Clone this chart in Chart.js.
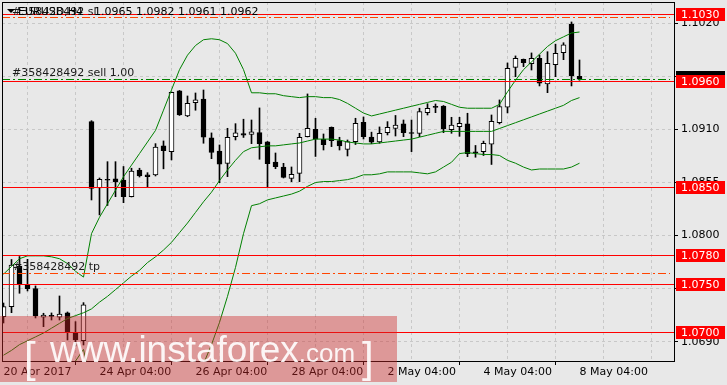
<!DOCTYPE html>
<html>
<head>
<meta charset="utf-8">
<script src="https://cdn.jsdelivr.net/npm/chart.js@4.4.0/dist/chart.umd.min.js"></script>
<style>
  html, body { margin: 0; padding: 0; background: #e8e8e8; }
  #wrap { width: 727px; height: 385px; }
</style>
</head>
<body>
<div id="wrap"><canvas id="chart" width="727" height="385"></canvas></div>
<script>
// EURUSD H4 candles, 20 Apr - 8 May 2017
const opens = [1.07159,1.07263,1.07685,1.07495,1.07450,1.07153,1.07164,1.07153,1.07198,1.06994,1.06911,
  1.09181,1.08493,1.08576,1.08587,1.08576,1.08403,1.08680,1.08630,1.08628,1.08929,1.08870,1.09499,1.09240,1.09378,
  1.09416,1.09012,1.08877,1.08749,1.09025,1.09058,1.09048,1.09067,1.08972,1.08763,1.08711,1.08592,1.08644,1.09025,
  1.09102,1.08998,1.09123,1.08984,1.08894,1.08973,1.09174,1.09020,1.08972,1.09067,1.09110,1.09157,1.09062,1.09060,
  1.09274,1.09332,1.09343,1.09098,1.09129,1.09157,1.08861,1.08870,1.08947,1.09170,1.09330,1.09744,1.09827,1.09782,
  1.09838,1.09571,1.09771,1.09896,1.10193,1.0965];
const highs = [1.07301,1.07752,1.07783,1.07754,1.07478,1.07195,1.07198,1.07374,1.07208,1.07108,1.07305,
  1.09191,1.08597,1.08766,1.08766,1.08716,1.08698,1.08698,1.08652,1.08953,1.08981,1.09488,1.09504,1.09447,1.09478,
  1.09509,1.09064,1.08939,1.09112,1.09160,1.09206,1.09198,1.09323,1.08975,1.08856,1.08749,1.08711,1.09060,1.09468,
  1.09216,1.09053,1.09126,1.09019,1.08991,1.09216,1.09229,1.09072,1.09126,1.09181,1.09245,1.09198,1.09198,1.09320,
  1.09367,1.09364,1.09348,1.09226,1.09226,1.09268,1.08934,1.08979,1.09250,1.09406,1.09789,1.09862,1.09830,1.09893,
  1.09872,1.09906,1.09984,1.09999,1.10214,1.0982];
const lows = [1.07094,1.07201,1.07402,1.07426,1.07146,1.07056,1.07125,1.07125,1.06918,1.06856,1.06866,
  1.08369,1.08214,1.08312,1.08403,1.08341,1.08400,1.08607,1.08504,1.08618,1.08692,1.08784,1.09245,1.09232,1.09299,
  1.08957,1.08797,1.08548,1.08611,1.08991,1.09017,1.08953,1.08791,1.08504,1.08693,1.08597,1.08559,1.08559,1.09022,
  1.08820,1.08887,1.08922,1.08887,1.08825,1.08944,1.09001,1.08953,1.08957,1.09043,1.09032,1.09025,1.08870,1.09025,
  1.09250,1.09274,1.09067,1.09060,1.09029,1.08818,1.08812,1.08830,1.08737,1.09157,1.09271,1.09647,1.09751,1.09716,
  1.09551,1.09481,1.09647,1.09823,1.09551,1.0961];
const closes = [1.07263,1.07695,1.07498,1.07450,1.07167,1.07177,1.07162,1.07187,1.07001,1.06918,1.07281,
  1.08490,1.08584,1.08573,1.08556,1.08403,1.08668,1.08618,1.08611,1.08918,1.08880,1.09485,1.09250,1.09371,1.09406,
  1.09019,1.08861,1.08739,1.09019,1.09064,1.09040,1.09076,1.08953,1.08745,1.08714,1.08604,1.08635,1.09019,1.09112,
  1.08998,1.08942,1.08984,1.08929,1.08973,1.09164,1.09025,1.08968,1.09060,1.09123,1.09146,1.09067,1.09058,1.09284,
  1.09320,1.09328,1.09105,1.09144,1.09164,1.08849,1.08857,1.08957,1.09183,1.09336,1.09734,1.09838,1.09792,1.09838,
  1.09579,1.09786,1.09890,1.09976,1.09654,1.0962];

// Bollinger bands
const bbUpper = [1.0760,1.0768,1.0776,1.0779,1.0779,1.0779,1.0778,1.0776,1.0771,1.0763,1.0757,
  1.0802,1.0819,1.0833,1.0847,1.0861,1.0873,1.0885,1.0897,1.0909,1.0930,1.0951,1.0972,1.0987,1.0997,
  1.1003,1.1004,1.1003,1.0999,1.0989,1.0972,1.0948,1.0948,1.0947,1.0947,1.0945,1.0944,1.0943,1.0944,
  1.0944,1.0943,1.0943,1.0941,1.0937,1.0932,1.0927,1.0924,1.0926,1.0928,1.0930,1.0932,1.0934,1.0936,
  1.0938,1.0940,1.0939,1.0936,1.0933,1.0932,1.0932,1.0932,1.0932,1.0936,1.0949,1.0961,1.0972,1.0980,
  1.0988,1.0996,1.1002,1.1006,1.1010,1.1011];
const bbMiddle = [1.0676,1.0681,1.0687,1.0691,1.0695,1.0699,1.0704,1.0709,1.0714,1.0717,1.0720,
  1.0724,1.0731,1.0737,1.0744,1.0751,1.0758,1.0764,1.0772,1.0778,1.0785,1.0793,1.0803,1.0813,1.0824,
  1.0835,1.0845,1.0857,1.0868,1.0878,1.0887,1.0891,1.0892,1.0893,1.0893,1.0894,1.0895,1.0896,1.0898,
  1.0900,1.0900,1.0900,1.0899,1.0897,1.0896,1.0895,1.0895,1.0896,1.0897,1.0898,1.0899,1.0900,1.0902,
  1.0904,1.0906,1.0908,1.0908,1.0908,1.0908,1.0908,1.0908,1.0908,1.0911,1.0914,1.0917,1.0920,1.0923,
  1.0926,1.0929,1.0932,1.0935,1.0940,1.0943];
const bbLower = [1.0592,1.0594,1.0597,1.0603,1.0611,1.0619,1.0631,1.0643,1.0657,1.0670,1.0682,
  1.0646,1.0643,1.0642,1.0640,1.0641,1.0643,1.0644,1.0646,1.0646,1.0640,1.0636,1.0634,1.0639,1.0652,
  1.0667,1.0687,1.0710,1.0737,1.0767,1.0802,1.0831,1.0833,1.0837,1.0839,1.0841,1.0843,1.0846,1.0851,
  1.0855,1.0856,1.0856,1.0857,1.0858,1.0860,1.0863,1.0863,1.0864,1.0866,1.0866,1.0866,1.0866,1.0865,
  1.0864,1.0866,1.0871,1.0876,1.0885,1.0886,1.0885,1.0884,1.0884,1.0883,1.0878,1.0875,1.0871,1.0868,
  1.0869,1.0869,1.0869,1.0869,1.0871,1.0875];

// axis labels, one every 12 bars
const dateLabels = ['20 Apr 2017', '24 Apr 04:00', '26 Apr 04:00', '28 Apr 04:00', '2 May 04:00', '4 May 04:00', '8 May 04:00'];
const priceTicks = [1.0690, 1.0745, 1.0800, 1.0855, 1.0910, 1.0965, 1.1020];

// horizontal levels and the order lines
const levels = [1.1030, 1.0960, 1.0850, 1.0780, 1.0750, 1.0700];
const orderId = '#358428492';
const slPrice = 1.1027;
const openPrice = 1.0962;
const tpPrice = 1.0761;
const bidPrice = 1.0962;

const FONT = '"DejaVu Sans", sans-serif';
const ohlcText = [opens, highs, lows, closes].map(a => a[a.length - 1].toFixed(4)).join(' ');

const idx = opens.map((_, i) => i);
const bull = idx.map(i => closes[i] >= opens[i]);

const decor = {
  id: 'decor',
  afterDatasetsDraw(chart) {
    const { ctx, chartArea: a, scales: { y } } = chart;
    ctx.save();
    ctx.lineWidth = 1;
    ctx.setLineDash([8, 3, 2, 3]);
    [[slPrice, 'rgb(255,69,0)'], [tpPrice, 'rgb(255,69,0)'], [openPrice, 'rgb(0,128,0)']].forEach(([v, c]) => {
      const py = Math.round(y.getPixelForValue(v)) + 0.5;
      ctx.strokeStyle = c;
      ctx.beginPath(); ctx.moveTo(a.left, py); ctx.lineTo(a.right - 4, py); ctx.stroke();
    });
    ctx.setLineDash([]);
    ctx.fillStyle = '#ff0000';
    levels.forEach(v => {
      const py = Math.round(y.getPixelForValue(v));
      ctx.fillRect(a.left, py, a.right - a.left, 1);
    });
    ctx.restore();
  },
  afterDraw(chart) {
    const { ctx, chartArea: a, scales: { y } } = chart;
    ctx.save();
    // frame
    ctx.strokeStyle = '#000';
    ctx.lineWidth = 1;
    ctx.strokeRect(a.left + 0.5, a.top + 0.5, a.right - a.left, a.bottom - a.top);

    ctx.font = '11px ' + FONT;
    ctx.textBaseline = 'alphabetic';
    ctx.fillStyle = '#1a1a1a';
    // order labels
    ctx.fillText(orderId + ' sl', 12, y.getPixelForValue(slPrice) - 2);
    ctx.fillText(orderId + ' sell 1.00', 12, y.getPixelForValue(openPrice) - 3);
    ctx.fillText(orderId + ' tp', 13, y.getPixelForValue(tpPrice) - 3);
    // header
    ctx.fillStyle = '#000';
    ctx.beginPath(); ctx.moveTo(7, 9); ctx.lineTo(15, 9); ctx.lineTo(11, 13); ctx.closePath(); ctx.fill();
    ctx.fillText('EURUSD,H4', 18, 15);
    ctx.fillText(ohlcText, 94, 15);

    // price boxes on the axis
    const bx = a.right + 2, bw = 49, bh = 13;
    ctx.textBaseline = 'middle';
    const by = Math.round(y.getPixelForValue(bidPrice));
    ctx.fillStyle = '#000';
    ctx.fillRect(bx, by - 8, bw, bh + 2);
    levels.forEach(v => {
      const py = Math.round(y.getPixelForValue(v));
      ctx.fillStyle = '#ff0000';
      ctx.fillRect(bx, py - 6, bw, bh);
      ctx.fillStyle = '#fff';
      ctx.fillText(v.toFixed(4), a.right + 7, py + 1);
    });

    // watermark
    ctx.fillStyle = 'rgba(205, 40, 40, 0.42)';
    ctx.fillRect(0, 316, 397, 66);
    ctx.fillStyle = 'rgba(255,255,255,0.9)';
    ctx.textBaseline = 'alphabetic';
    ctx.font = '42px "Liberation Sans", sans-serif';
    ctx.fillText('[', 24, 372);
    ctx.font = '37px "Liberation Sans", sans-serif';
    ctx.fillText('www.instaforex', 50, 362);
    const w = ctx.measureText('www.instaforex').width;
    ctx.font = '26px "Liberation Sans", sans-serif';
    ctx.fillText('.com', 50 + w, 362);
    ctx.font = '42px "Liberation Sans", sans-serif';
    ctx.fillText(']', 362, 372);
    ctx.restore();
  }
};

new Chart(document.getElementById('chart'), {
  type: 'bar',
  data: {
    datasets: [
      { type: 'line', data: idx.map(i => ({ x: i, y: bbUpper[i] })), borderColor: '#008000', borderWidth: 1, pointRadius: 0, tension: 0, order: 0 },
      { type: 'line', data: idx.map(i => ({ x: i, y: bbMiddle[i] })), borderColor: '#008000', borderWidth: 1, pointRadius: 0, tension: 0, order: 0 },
      { type: 'line', data: idx.map(i => ({ x: i, y: bbLower[i] })), borderColor: '#008000', borderWidth: 1, pointRadius: 0, tension: 0, order: 0 },
      {
        data: idx.map(i => ({ x: i, y: [opens[i], closes[i]] })),
        backgroundColor: idx.map(i => bull[i] ? '#ffffff' : '#000000'),
        borderColor: '#000', borderWidth: 1, borderSkipped: false,
        grouped: false, barThickness: 5, maxBarThickness: 5, minBarLength: 1, order: 1
      },
      {
        data: idx.map(i => ({ x: i, y: [lows[i], highs[i]] })),
        backgroundColor: '#000', borderWidth: 0,
        grouped: false, barThickness: 1, maxBarThickness: 1, order: 2
      }
    ]
  },
  options: {
    responsive: false,
    animation: false,
    devicePixelRatio: 1,
    layout: { padding: { left: 2, top: 2, right: 0, bottom: 0 } },
    plugins: { legend: { display: false }, tooltip: { enabled: false } },
    scales: {
      x: {
        type: 'linear', min: -0.1875, max: 83.8125, offset: false,
        afterBuildTicks: s => { s.ticks = []; for (let i = 0; i <= 78; i += 6) s.ticks.push({ value: i }); },
        ticks: {
          autoSkip: false, maxRotation: 0, minRotation: 0, align: 'start', padding: 1,
          color: '#000', font: { family: FONT, size: 11 },
          callback: v => (v % 12 === 0 && v / 12 < dateLabels.length) ? dateLabels[v / 12] : ''
        },
        grid: {
          color: '#c8c8c8', tickLength: 4,
          tickColor: c => (c.tick && c.tick.value % 12 === 0 && c.tick.value <= 72) ? '#000' : 'rgba(0,0,0,0)'
        },
        border: { display: true, color: '#000', dash: [3, 3] },
        afterFit: s => { s.height = 24; s.paddingLeft = 0; s.paddingRight = 0; }
      },
      y: {
        position: 'right', min: 1.0670, max: 1.10421,
        afterBuildTicks: s => { s.ticks = priceTicks.map(v => ({ value: v })); },
        ticks: { color: '#000', padding: 3, font: { family: FONT, size: 11 }, callback: v => v.toFixed(4) },
        grid: { color: '#c8c8c8', tickLength: 4, tickColor: '#000' },
        border: { display: true, color: '#000', dash: [3, 3] },
        afterFit: s => { s.width = 53; s.paddingTop = 0; s.paddingBottom = 0; }
      }
    }
  },
  plugins: [decor]
});
</script>
</body>
</html>
